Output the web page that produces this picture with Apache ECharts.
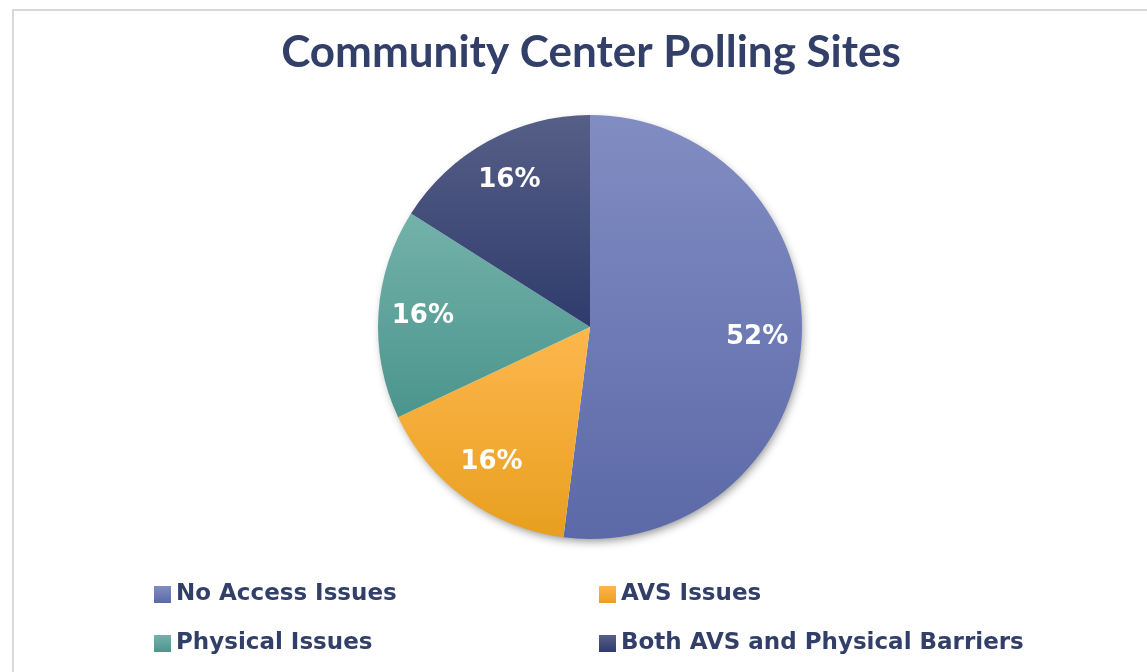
<!DOCTYPE html>
<html>
<head>
<meta charset="utf-8">
<title>Community Center Polling Sites</title>
<script src="https://cdn.jsdelivr.net/npm/echarts@6/dist/echarts.min.js"></script>
<style>
    html, body { margin: 0; padding: 0; background: #ffffff; }
    #chart { width: 1147px; height: 672px; }
</style>
</head>
<body>
<div id="chart"></div>
<script>
// data
const categories = ['No Access Issues', 'AVS Issues', 'Physical Issues', 'Both AVS and Physical Barriers']
const siteCounts = [13, 4, 4, 4]

// gradient fills, top -> bottom of each slice
const colorTop = ['#818dc2', '#fdb74d', '#73b2ab', '#565f86']
const colorBottom = ['#5b69a8', '#e89f1f', '#4b958c', '#2f3b6d']

const TEXT = '#323f68'
const CX = 590
const CY = 327
const R = 212
const LABEL_R = 0.79 * R

const total = siteCounts.reduce((a, b) => a + b, 0)

function midAngle (i) {
    let before = 0
    for (let k = 0; k < i; k++) before += siteCounts[k]
    return (before + siteCounts[i] / 2) / total * Math.PI * 2
}

const legendText = {
    fontFamily: 'DejaVu Sans',
    fontWeight: 'bold',
    fontSize: 23,
    lineHeight: 27,
    color: TEXT
}

const chart = echarts.init(document.getElementById('chart'))

chart.setOption({
    animation: false,
    title: {
        text: 'Community Center Polling Sites',
        left: CX - 4,
        textAlign: 'center',
        top: 26,
        textStyle: {
            fontFamily: 'Lato',
            fontWeight: 'bold',
            fontSize: 44,
            color: TEXT
        }
    },
    graphic: [
        {
            type: 'rect',
            z: -10,
            shape: { x: 13, y: 10, width: 1200, height: 700 },
            style: { fill: 'none', stroke: '#d9d9d9', lineWidth: 2 }
        },
        {
            // soft drop shadow under the pie
            type: 'circle',
            z: -5,
            shape: { cx: CX, cy: CY, r: R - 2 },
            style: {
                fill: '#ffffff',
                shadowBlur: 10,
                shadowOffsetX: 2,
                shadowOffsetY: 4,
                shadowColor: 'rgba(0,0,0,0.45)'
            }
        }
    ],
    legend: [
        {
            data: [categories[0], categories[2]],
            orient: 'vertical',
            left: 149,
            top: 576,
            itemWidth: 17,
            itemHeight: 17,
            itemGap: 22,
            icon: 'rect',
            selectedMode: false,
            textStyle: legendText
        },
        {
            data: [categories[1], categories[3]],
            orient: 'vertical',
            left: 594,
            top: 576,
            itemWidth: 17,
            itemHeight: 17,
            itemGap: 22,
            icon: 'rect',
            selectedMode: false,
            textStyle: legendText
        }
    ],
    series: [{
        type: 'pie',
        center: [CX, CY],
        radius: R,
        startAngle: 90,
        clockwise: true,
        silent: true,
        label: {
            show: true,
            position: 'inside',
            formatter: p => Math.round(p.value / total * 100) + '%',
            color: '#ffffff',
            fontFamily: 'DejaVu Sans',
            fontWeight: 'bold',
            fontSize: 26
        },
        labelLayout: p => {
            const a = midAngle(p.dataIndex)
            return {
                x: CX + LABEL_R * Math.sin(a),
                y: CY - LABEL_R * Math.cos(a),
                align: 'center',
                verticalAlign: 'middle'
            }
        },
        data: categories.map((name, i) => ({
            name: name,
            value: siteCounts[i],
            itemStyle: {
                color: new echarts.graphic.LinearGradient(0, 0, 0, 1, [
                    { offset: 0, color: colorTop[i] },
                    { offset: 1, color: colorBottom[i] }
                ])
            }
        }))
    }]
})
</script>
</body>
</html>
